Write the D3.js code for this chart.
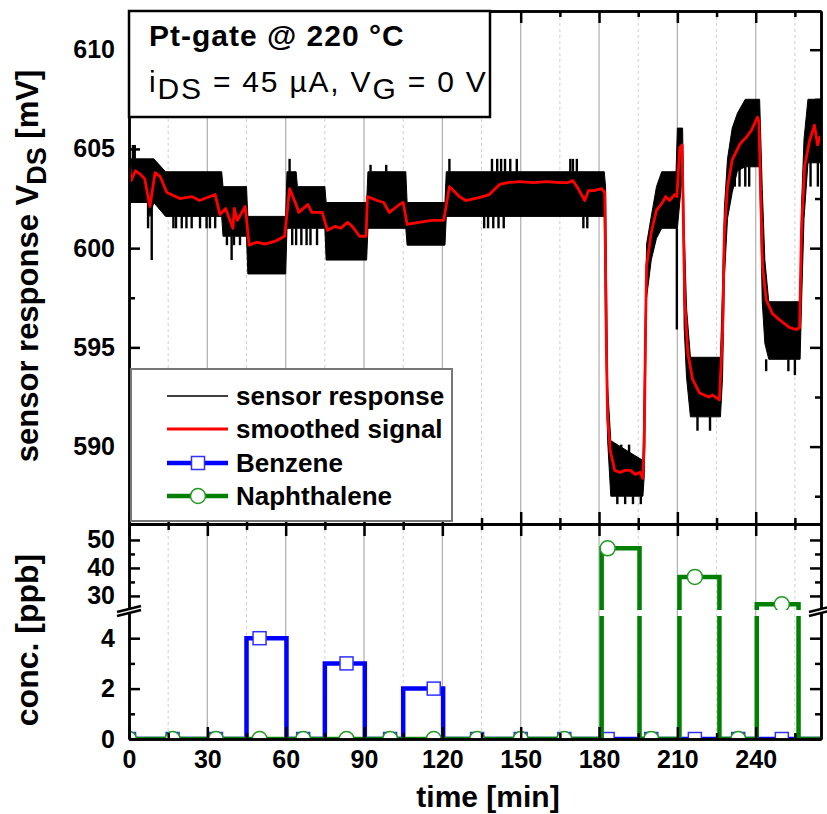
<!DOCTYPE html>
<html>
<head>
<meta charset="utf-8">
<script src="https://cdn.jsdelivr.net/npm/d3@7"></script>
<style>
  body { margin: 0; background: #fff; }
  svg { display: block; }
  text { font-family: "Liberation Sans", Arial, sans-serif; }
</style>
</head>
<body>
<div id="chart"></div>
<script>
// ---- data ----
// smoothed signal (red), time [min] / mV
var smoothT = [0,0.8,2.5,4.5,6,8,10,12,14.5,19.5,24,27,31,33,34.8,37,39.8,40.3,41.5,44.5,46,49,52,56,59.6,
  61.5,64,65,68.5,70,74,76,79,81,83.7,85.5,88.3,90.8,91.3,95,97.5,99.7,103.6,105,106.5,111,116,120.5,
  122.7,126.5,129,134,138,141.8,145,149.4,155,160,165,168,170,172,174.5,176,178,181,182.2,182.8,183.3,
  184.3,186,188,190,192,193.9,195.8,196.7,197.3,197.8,198.2,200,202,204.3,205.5,207,209,209.8,210.9,
  211.8,212.8,214,215.8,218.5,222,223.5,226.1,227.3,228,229.2,231,233.8,235,236.5,238.4,240.7,241.2,
  242.6,244,246.4,249,253,255.6,256.8,257.5,258.7,260.6,262.5,263.7,264.5,265];
var smoothV = [604.5,603.4,603.9,603.7,603.5,602.1,603.8,603.6,602.8,602.5,602.6,602.4,602.6,602.7,601.7,602.0,601.0,602.0,601.4,602.1,600.15,600.3,600.2,600.35,600.6,
  603.0,602.2,601.8,602.2,601.8,601.8,600.9,601.1,601.0,601.3,601.1,600.6,600.6,602.6,602.4,602.3,601.8,602.2,602.3,601.2,601.3,601.4,601.4,
  603.1,602.6,602.4,602.55,602.7,603.2,603.3,603.35,603.3,603.35,603.3,603.3,603.4,603.0,602.4,602.9,602.9,603.0,602.8,595.0,591.4,
  589.8,588.8,588.7,588.8,588.8,588.6,588.7,588.4,590.0,596.0,599.1,600.8,601.9,602.3,602.6,602.4,602.7,602.6,605.05,
  605.2,597.4,594.7,593.4,592.7,592.5,592.6,592.35,595.7,600.8,603.1,604.45,605.2,605.4,605.6,605.95,606.6,606.4,
  599.1,597.4,596.7,596.4,596.0,595.9,596.0,600.8,604.1,605.4,606.2,605.2,605.6,605.3];

// raw sensor response (black): dense core of the noisy trace
var rawT  = [0,7.5,8,9.5,14,35.5,36,45,45.5,60,60.5,64,64.5,75,75.5,91,91.5,106,106.5,121,121.5,182,182.5,183.3,184.5,
  196.8,197.3,198.2,200,202,204,209.5,210,212,212.6,213.5,215,226.5,227.3,228,229.2,231,233,236,241.5,242.5,243.5,245,257,
  257.5,258.5,260,265];
var rawLo = [602.3,602.3,601.6,602.3,601.6,601.6,600.6,600.6,598.7,598.7,601.0,601.0,601.0,601.0,599.4,599.4,601.0,601.0,600.15,600.15,601.6,601.6,596,590.3,587.5,
  587.5,588.5,597.5,599.4,600.5,601.0,601.0,601.0,603.85,596,593.5,591.5,591.5,593.5,598.5,601.5,602.8,603.9,604.1,604.1,597.3,595.2,594.4,594.4,
  597,601.5,604.3,604.3];
var rawHi = [604.5,604.5,604.5,604.5,603.85,603.85,603.1,603.1,601.6,601.6,603.85,603.85,603.1,603.1,602.3,602.3,603.85,603.85,602.3,602.3,603.85,603.85,603.1,593,590.3,
  589.3,593,600.2,601.6,603.1,603.85,603.85,606.05,606.05,601,597,594.5,594.5,598,602,604.5,606.05,606.8,607.5,607.5,603,599.4,597.3,597.3,
  602,605.5,607.5,607.5];
// single noise spikes beyond the core [time, from, to]
var spikes = [[1.5,604.5,605.2],[2.2,604.5,605.2],[7.3,602.3,601.0],[8.7,602.3,599.4],
  [17,601.6,601.0],[18,601.6,601.0],[20.2,601.6,601.0],[22,601.6,601.0],[24,601.6,601.0],[27.2,601.6,601.0],
  [29.7,601.6,601.0],[31,601.6,601.0],[33,601.6,601.0],
  [37.5,600.6,600.15],[39.3,600.6,599.4],[40.2,600.6,600.15],[42.5,600.6,600.15],
  [61.5,603.85,604.5],[62.5,601.0,600.15],[64,601.0,600.15],[66,601.0,600.15],[68,601.0,600.15],[69.5,601.0,600.15],[72,601.0,600.15],
  [92.5,603.85,604.2],[98.5,603.85,604.2],
  [122.7,603.85,604.5],[136,601.6,601.0],[137.5,601.6,601.0],[139,603.85,604.5],[139.5,601.6,601.0],[141,603.85,604.5],
  [141.5,601.6,601.0],[142.5,603.85,604.5],[143.5,601.6,601.0],[144,603.85,604.5],[146,603.85,604.5],[148.5,603.85,604.5],
  [169,603.85,604.5],[170,603.85,604.5],[171.5,603.85,604.5],[174,601.6,601.0],[175.5,601.6,601.0],
  [186,589.3,590.1],[188.5,589.3,590.1],[191.5,589.3,590.1],
  [187,587.5,587.1],[190,587.5,587.1],[193,587.5,587.1],[196,587.5,587.1],[209.8,601.0,595.9],[217.7,591.5,590.8],
  [222.5,591.5,590.8],[232,604.0,603.1],[233.8,604.0,603.1],[236,604.1,603.1],[237.5,604.1,603.1],
  [244,594.4,593.8],[252.5,594.4,593.8],[255,594.4,593.6],[261,604.3,603.1],[263.8,604.3,603.1]];

// concentrations [ppb]: pulses [start, end, level]
var benzenePulses = [[45,60.3,4],[75,90.3,3],[105,120.3,2]];
var naphthPulses  = [[181,195.5,47],[210.8,226.1,36.8],[240.4,256.4,27]];
var markerT      = [0,16.7,33.3,50,66.7,83.3,100,116.7,133.3,150,166.7,183.3,200,216.7,233.3,250];
var benzeneMark  = [0,0,0,4,0,3,0,2,0,0,0,0,0,0,0,0];
var naphthMark   = [0,0,0,0,0,0,0,0,0,0,0,47,0,36.8,0,27];

var xMajor = [0,30,60,90,120,150,180,210,240];
var xMinor = [15,45,75,105,135,165,195,225,255];
var vMajor = [590,595,600,605,610];
var vMinor = [587.5,592.5,597.5,602.5,607.5];

// ---- layout ----
var W = 827, H = 814;
var L = 129, R = 821, T = 11, MID = 524, B = 739, BRK = 613;

var svg = d3.select("#chart").append("svg").attr("width", W).attr("height", H);

var x = d3.scaleLinear().domain([0, 265]).range([L, R]);
var yTop = d3.scaleLinear().domain([586.1, 611.95]).range([MID, T]);
var yLow = d3.scaleLinear().domain([0, 5]).range([B, BRK]);
var yHigh = d3.scaleLinear().domain([23.9, 55.7]).range([BRK, MID]);
function yConc(v) { return v <= 5 ? yLow(v) : yHigh(v); }

var defs = svg.append("defs");
defs.append("clipPath").attr("id", "clipTop").append("rect")
  .attr("x", L).attr("y", T).attr("width", R - L).attr("height", MID - T);
defs.append("clipPath").attr("id", "clipBot").append("rect")
  .attr("x", L).attr("y", MID).attr("width", R - L).attr("height", B - MID);
var mask = defs.append("mask").attr("id", "gapMask");
mask.append("rect").attr("x", 0).attr("y", 0).attr("width", W).attr("height", H).attr("fill", "white");
mask.append("rect").attr("x", 0).attr("y", BRK - 3).attr("width", W).attr("height", 6).attr("fill", "black");

// grid lines, both panels
function grid(y0, y1) {
  svg.append("g").selectAll("line").data(xMajor.slice(1)).enter().append("line")
    .attr("x1", d => x(d)).attr("x2", d => x(d)).attr("y1", y0).attr("y2", y1)
    .attr("stroke", "#b4b4b4").attr("stroke-width", 1.3);
  svg.append("g").selectAll("line").data(xMinor).enter().append("line")
    .attr("x1", d => x(d)).attr("x2", d => x(d)).attr("y1", y0).attr("y2", y1)
    .attr("stroke", "#d0d0d0").attr("stroke-width", 1).attr("stroke-dasharray", "3,3");
}
grid(T, MID);
grid(MID, B);

// ---- top panel ----
var topG = svg.append("g").attr("clip-path", "url(#clipTop)");
var band = d3.range(rawT.length);
topG.append("path")
  .attr("d", d3.area().x(i => x(rawT[i])).y0(i => yTop(rawLo[i])).y1(i => yTop(rawHi[i]))(band))
  .attr("fill", "#000").attr("stroke", "#000").attr("stroke-width", 1);
topG.append("g").selectAll("line").data(spikes).enter().append("line")
  .attr("x1", d => x(d[0])).attr("x2", d => x(d[0]))
  .attr("y1", d => yTop(d[1])).attr("y2", d => yTop(d[2]))
  .attr("stroke", "#000").attr("stroke-width", 2.4);
topG.append("path")
  .attr("d", d3.line().x(i => x(smoothT[i])).y(i => yTop(smoothV[i]))(d3.range(smoothT.length)))
  .attr("fill", "none").attr("stroke", "#ff0000").attr("stroke-width", 2.8).attr("stroke-linejoin", "round");

// ---- bottom panel ----
function stepPoints(pulses) {
  var pts = [[0, 0]];
  pulses.forEach(function(p) {
    pts.push([p[0], 0], [p[0], p[2]], [p[1], p[2]], [p[1], 0]);
  });
  pts.push([265, 0]);
  return pts;
}
var conc = svg.append("g").attr("clip-path", "url(#clipBot)").append("g").attr("mask", "url(#gapMask)");
var stepLine = d3.line().x(d => x(d[0])).y(d => yConc(d[1]));
conc.append("path").attr("d", stepLine(stepPoints(benzenePulses)))
  .attr("fill", "none").attr("stroke", "#0000ff").attr("stroke-width", 4.5);
conc.append("g").selectAll("rect").data(markerT).enter().append("rect")
  .attr("x", d => x(d) - 6.5).attr("y", (d, i) => yConc(benzeneMark[i]) - 6.5)
  .attr("width", 13).attr("height", 13)
  .attr("fill", "#fff").attr("stroke", "#3030ff").attr("stroke-width", 1.5);
conc.append("path").attr("d", stepLine(stepPoints(naphthPulses)))
  .attr("fill", "none").attr("stroke", "#008000").attr("stroke-width", 4.5);
conc.append("g").selectAll("circle").data(markerT).enter().append("circle")
  .attr("cx", d => x(d)).attr("cy", (d, i) => yConc(naphthMark[i])).attr("r", 7.5)
  .attr("fill", "#fff").attr("stroke", "#1f9a1f").attr("stroke-width", 1.5);

// ---- axes ----
function styleAxis(g) {
  g.selectAll(".domain").attr("stroke", "#000").attr("stroke-width", 2.5);
  g.selectAll(".tick line").attr("stroke", "#000").attr("stroke-width", 2.5);
  g.selectAll("text").attr("font-size", 25).attr("font-weight", "bold").attr("fill", "#000")
    .attr("font-family", '"Liberation Sans", Arial, sans-serif');
}
function ax(axis, tx, ty) {
  var g = svg.append("g").attr("transform", "translate(" + tx + "," + ty + ")").call(axis);
  styleAxis(g);
  return g;
}
var none = function() { return ""; };
var fmt = d3.format("d");

// top panel, y
ax(d3.axisLeft(yTop).tickValues(vMajor).tickSize(-11).tickSizeOuter(0).tickPadding(14).tickFormat(fmt), L, 0);
ax(d3.axisLeft(yTop).tickValues(vMinor).tickSize(-6).tickSizeOuter(0).tickFormat(none), L, 0);
ax(d3.axisRight(yTop).tickValues(vMajor).tickSize(-11).tickSizeOuter(0).tickFormat(none), R, 0);
ax(d3.axisRight(yTop).tickValues(vMinor).tickSize(-6).tickSizeOuter(0).tickFormat(none), R, 0);
// top panel, x
ax(d3.axisTop(x).tickValues(xMajor).tickSize(-12).tickSizeOuter(0).tickFormat(none), 0, T);
ax(d3.axisTop(x).tickValues(xMinor).tickSize(-6).tickSizeOuter(0).tickFormat(none), 0, T);
ax(d3.axisBottom(x).tickValues(xMajor).tickSize(-12).tickSizeOuter(0).tickFormat(none), 0, MID);
ax(d3.axisBottom(x).tickValues(xMinor).tickSize(-6).tickSizeOuter(0).tickFormat(none), 0, MID);

// bottom panel, x
ax(d3.axisTop(x).tickValues(xMajor).tickSize(-12).tickSizeOuter(0).tickFormat(none), 0, MID);
ax(d3.axisTop(x).tickValues(xMinor).tickSize(-6).tickSizeOuter(0).tickFormat(none), 0, MID);
ax(d3.axisBottom(x).tickValues(xMajor).tickSize(-12).tickSizeOuter(0).tickPadding(11).tickFormat(fmt), 0, B);
ax(d3.axisBottom(x).tickValues(xMinor).tickSize(-6).tickSizeOuter(0).tickFormat(none), 0, B);

// bottom panel, y (broken axis)
ax(d3.axisLeft(yLow).tickValues([0, 2, 4]).tickSize(-11).tickSizeOuter(0).tickPadding(14).tickFormat(fmt), L, 0);
ax(d3.axisLeft(yLow).tickValues([1, 3]).tickSize(-6).tickSizeOuter(0).tickFormat(none), L, 0);
ax(d3.axisLeft(yHigh).tickValues([30, 40, 50]).tickSize(-11).tickSizeOuter(0).tickPadding(14).tickFormat(fmt), L, 0);
ax(d3.axisLeft(yHigh).tickValues([35, 45]).tickSize(-6).tickSizeOuter(0).tickFormat(none), L, 0);
ax(d3.axisRight(yLow).tickValues([0, 2, 4]).tickSize(-11).tickSizeOuter(0).tickFormat(none), R, 0);
ax(d3.axisRight(yLow).tickValues([1, 3]).tickSize(-6).tickSizeOuter(0).tickFormat(none), R, 0);
ax(d3.axisRight(yHigh).tickValues([30, 40, 50]).tickSize(-11).tickSizeOuter(0).tickFormat(none), R, 0);
ax(d3.axisRight(yHigh).tickValues([35, 45]).tickSize(-6).tickSizeOuter(0).tickFormat(none), R, 0);

// axis break marks
[L, R].forEach(function(px) {
  var g = svg.append("g");
  g.append("path").attr("d", "M" + (px - 12) + "," + (BRK + 3) + "L" + (px + 12) + "," + (BRK - 3) +
      "L" + (px + 12) + "," + (BRK - 7) + "L" + (px - 12) + "," + (BRK - 1) + "Z")
    .attr("fill", "#fff");
  g.append("line").attr("x1", px - 12).attr("y1", BRK + 3).attr("x2", px + 12).attr("y2", BRK - 3)
    .attr("stroke", "#000").attr("stroke-width", 2.5);
  g.append("line").attr("x1", px - 12).attr("y1", BRK - 1).attr("x2", px + 12).attr("y2", BRK - 7)
    .attr("stroke", "#000").attr("stroke-width", 2.5);
});

// ---- title box ----
svg.append("rect").attr("x", L).attr("y", T).attr("width", 361).attr("height", 106)
  .attr("fill", "#fff").attr("stroke", "#000").attr("stroke-width", 2.5);
svg.append("text").attr("x", 149).attr("y", 46).attr("font-size", 30).attr("font-weight", "bold")
  .attr("letter-spacing", 1).text("Pt-gate @ 220 °C");
var t2 = svg.append("text").attr("x", 149).attr("y", 92).attr("font-size", 30).attr("letter-spacing", 1.8);
t2.append("tspan").text("i");
t2.append("tspan").attr("dy", 7).text("DS");
t2.append("tspan").attr("dy", -7).text(" = 45 µA, V");
t2.append("tspan").attr("dy", 7).text("G");
t2.append("tspan").attr("dy", -7).text(" = 0 V");

// ---- legend ----
var legendItems = ["sensor response", "smoothed signal", "Benzene", "Naphthalene"];
var legendColors = ["#000", "#ff0000", "#0000ff", "#008000"];
var legendWidths = [1.5, 2.8, 4.5, 4.5];
svg.append("rect").attr("x", 131).attr("y", 369).attr("width", 321).attr("height", 152)
  .attr("fill", "#fff").attr("stroke", "#777").attr("stroke-width", 2);
var lg = svg.append("g").selectAll("g").data(legendItems).enter().append("g")
  .attr("transform", (d, i) => "translate(0," + [396, 429, 463, 496][i] + ")");
lg.append("line").attr("x1", 167).attr("x2", 228).attr("y1", 0).attr("y2", 0)
  .attr("stroke", (d, i) => legendColors[i]).attr("stroke-width", (d, i) => legendWidths[i]);
lg.filter((d, i) => i === 2).append("rect").attr("x", 191.5).attr("y", -6.5).attr("width", 13).attr("height", 13)
  .attr("fill", "#fff").attr("stroke", "#3030ff").attr("stroke-width", 1.5);
lg.filter((d, i) => i === 3).append("circle").attr("cx", 198).attr("cy", 0).attr("r", 7.5)
  .attr("fill", "#fff").attr("stroke", "#1f9a1f").attr("stroke-width", 1.5);
lg.append("text").attr("x", 236).attr("y", 0).attr("dy", "0.35em")
  .attr("font-size", 26).attr("font-weight", "bold").text(d => d);

// ---- axis titles ----
var yl = svg.append("text").attr("transform", "translate(38,266) rotate(-90)")
  .attr("text-anchor", "middle").attr("font-size", 31).attr("font-weight", "bold");
yl.append("tspan").text("sensor response V");
yl.append("tspan").attr("dy", 8).attr("font-size", 27).text("DS");
yl.append("tspan").attr("dy", -8).text(" [mV]");
svg.append("text").attr("transform", "translate(38,640) rotate(-90)")
  .attr("text-anchor", "middle").attr("font-size", 32).attr("font-weight", "bold").text("conc. [ppb]");
svg.append("text").attr("x", 488).attr("y", 807)
  .attr("text-anchor", "middle").attr("font-size", 30).attr("font-weight", "bold").text("time [min]");
</script>
</body>
</html>
